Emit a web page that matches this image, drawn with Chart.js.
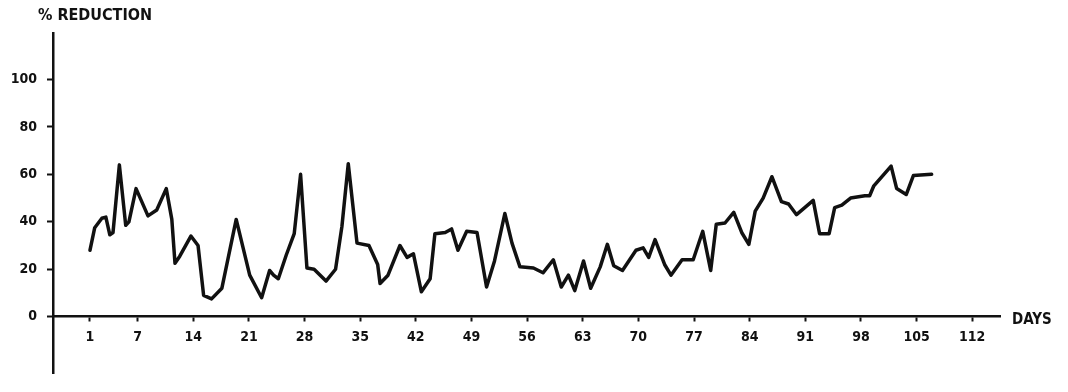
<!DOCTYPE html>
<html>
<head>
<meta charset="utf-8">
<script src="https://cdn.jsdelivr.net/npm/chart.js@4"></script>
<style>
  html, body { margin: 0; padding: 0; background: #fff; }
</style>
</head>
<body>
<canvas id="reduction" width="1068" height="392"></canvas>
<script>
// values (day, % reduction)
const days = [
  1.0, 1.6, 2.5, 3.0, 3.5, 3.9, 4.7, 5.5, 5.9, 6.8,
  8.3, 9.4, 10.6, 11.3, 11.7, 12.3, 13.7, 14.6, 15.3, 16.3,
  17.6, 19.4, 21.1, 22.6, 23.6, 24.1, 24.7, 25.7, 26.7, 27.5,
  28.3, 29.2, 30.7, 31.9, 32.7, 33.5, 34.6, 36.1, 37.2, 37.5,
  38.5, 40.0, 40.9, 41.7, 42.7, 43.8, 44.4, 45.7, 46.5, 47.3,
  48.4, 49.7, 50.9, 51.9, 53.2, 54.1, 55.1, 56.8, 58.0, 59.3,
  60.3, 61.2, 62.0, 63.1, 64.0, 65.2, 66.1, 66.9, 68.0, 69.7,
  70.6, 71.3, 72.1, 73.3, 74.1, 75.5, 76.9, 78.1, 79.1, 79.8,
  80.9, 82.0, 83.0, 83.9, 84.7, 85.7, 86.8, 88.0, 88.9, 89.9,
  92.0, 92.8, 94.0, 94.7, 95.6, 96.7, 98.5, 99.1, 99.6, 101.8,
  102.5, 103.7, 104.6, 106.9
];
const reduction = [
  28, 37.5, 41.5, 42, 34.5, 35.5, 64, 38.5, 40, 54,
  42.5, 45, 54, 41, 22.5, 25.5, 34, 30, 9, 7.5,
  12, 41, 17.5, 8, 19.5, 17.5, 16, 26, 35, 60,
  20.5, 20, 15, 20, 38, 64.5, 31, 30, 22, 14,
  17.5, 30, 25, 26.5, 10.5, 16, 35, 35.5, 37, 28,
  36, 35.5, 12.5, 23.5, 43.5, 31, 21, 20.5, 18.5, 24,
  12.5, 17.5, 11, 23.5, 12, 21, 30.5, 21.5, 19.5, 28,
  29, 25, 32.5, 22, 17.5, 24, 24, 36, 19.5, 39,
  39.5, 44, 35.5, 30.5, 44.5, 50, 59, 48.5, 47.5, 43,
  49, 35, 35, 46, 47, 50, 51, 51, 55, 63.5,
  54, 51.5, 59.5, 60
];
const dayTicks = [1, 7, 14, 21, 28, 35, 42, 49, 56, 63, 70, 77, 84, 91, 98, 105, 112];
const percentTicks = [0, 20, 40, 60, 80, 100];

const fontFamily = '"DejaVu Sans Condensed", "Liberation Sans", Arial, sans-serif';
const ink = '#111';

// axis names sit at the ends of the axes, like the original drawing
const axisNames = {
  id: 'axisNames',
  afterDraw(chart) {
    const { ctx, scales: { x, y } } = chart;
    ctx.save();
    ctx.fillStyle = ink;
    ctx.textBaseline = 'middle';
    ctx.textAlign = 'left';
    ctx.font = 'bold 16px ' + fontFamily;
    ctx.fillText('% REDUCTION', y.right - 15, 16);
    ctx.font = 'bold 15px ' + fontFamily;
    ctx.fillText('DAYS', x.right + 12, y.getPixelForValue(0) + 3);
    ctx.restore();
  }
};

const ctx = document.getElementById('reduction').getContext('2d');
new Chart(ctx, {
  type: 'line',
  data: {
    datasets: [{
      label: '% reduction',
      data: days.map((d, i) => ({ x: d, y: reduction[i] })),
      borderColor: ink,
      borderWidth: 3.5,
      borderJoinStyle: 'round',
      borderCapStyle: 'round',
      pointRadius: 0,
      tension: 0,
      fill: false
    }]
  },
  options: {
    responsive: false,
    animation: false,
    layout: { padding: { left: 0, top: 33, right: 68, bottom: 0 } },
    plugins: {
      legend: { display: false },
      tooltip: { enabled: false }
    },
    scales: {
      x: {
        type: 'linear',
        position: { y: 0 },
        min: -3.65,
        max: 115.5,
        afterBuildTicks: scale => { scale.ticks = dayTicks.map(v => ({ value: v })); },
        grid: { drawOnChartArea: false, drawTicks: true, tickLength: 4, tickColor: ink, tickWidth: 2 },
        border: { color: ink, width: 2.5 },
        ticks: {
          color: ink,
          padding: 8,
          maxRotation: 0,
          autoSkip: false,
          font: { family: fontFamily, size: 14, weight: 'bold' }
        }
      },
      y: {
        type: 'linear',
        min: -24,
        max: 119.6,
        afterBuildTicks: scale => { scale.ticks = percentTicks.map(v => ({ value: v })); },
        afterFit: scale => { scale.width = 53; },
        grid: { drawOnChartArea: false, drawTicks: true, tickLength: 6, tickColor: ink, tickWidth: 2 },
        border: { color: ink, width: 2.5 },
        ticks: {
          color: ink,
          padding: 10,
          font: { family: fontFamily, size: 14, weight: 'bold' }
        }
      }
    }
  },
  plugins: [axisNames]
});
</script>
</body>
</html>
